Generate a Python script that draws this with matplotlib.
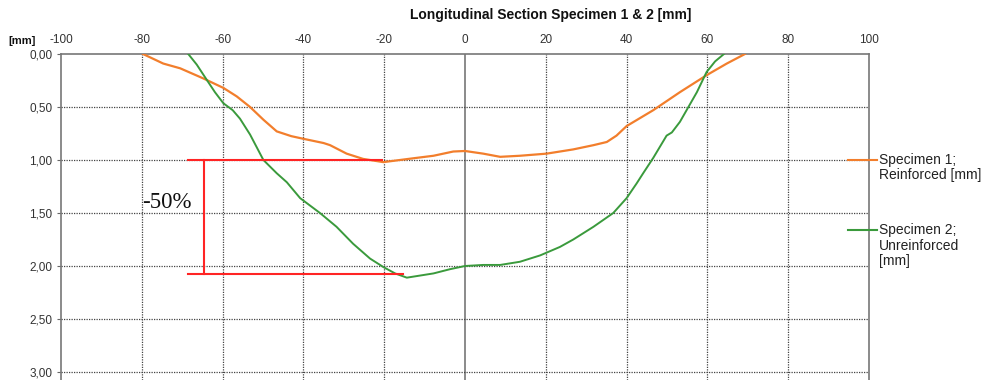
import matplotlib
matplotlib.use("Agg")
import matplotlib.pyplot as plt
from matplotlib.lines import Line2D

plt.rcParams['font.family'] = ['Liberation Sans', 'DejaVu Sans']
plt.rcParams['axes.unicode_minus'] = False

# Specimen 1 (reinforced)
x1 = [-79.7, -74.7, -70.5, -64.8, -59.8, -56.5, -53.2, -49.9, -46.6, -43.0, -40.0, -35.0,
      -33.4, -29.3, -25.2, -20.2, -16.1, -12.0, -7.8, -2.9, 0.0, 4.5, 8.7, 13.6, 20.2,
      26.8, 31.8, 35.1, 37.5, 40.0, 46.6, 53.2, 59.8, 64.8, 69.3]
y1 = [0.00, 0.09, 0.135, 0.23, 0.32, 0.40, 0.50, 0.62, 0.73, 0.775, 0.80, 0.84,
      0.86, 0.94, 0.99, 1.02, 1.00, 0.98, 0.96, 0.92, 0.915, 0.94, 0.97, 0.96, 0.94,
      0.90, 0.86, 0.83, 0.77, 0.68, 0.53, 0.36, 0.20, 0.09, 0.00]

# Specimen 2 (unreinforced)
x2 = [-68.5, -66.4, -63.9, -61.9, -59.8, -57.5, -55.7, -53.2, -49.9, -46.6, -44.1, -40.8,
      -35.9, -31.8, -27.7, -23.5, -20.2, -17.3, -14.4, -11.1, -7.8, -3.7, 0.0, 4.5, 8.7,
      13.6, 18.6, 23.5, 26.8, 31.8, 36.7, 40.0, 42.5, 44.1, 46.6, 49.9, 51.2, 53.2, 55.3,
      57.4, 59.8, 61.9, 64.1]
y2 = [0.00, 0.10, 0.245, 0.36, 0.465, 0.53, 0.61, 0.76, 1.00, 1.125, 1.21, 1.36,
      1.50, 1.63, 1.79, 1.93, 2.01, 2.07, 2.11, 2.09, 2.07, 2.03, 2.00, 1.99, 1.99,
      1.96, 1.90, 1.82, 1.75, 1.63, 1.50, 1.36, 1.22, 1.125, 0.98, 0.77, 0.74, 0.64, 0.50,
      0.36, 0.17, 0.07, 0.00]

labels = ["Specimen 1;\nReinforced [mm]", "Specimen 2;\nUnreinforced\n[mm]"]
title = "Longitudinal Section Specimen 1 & 2 [mm]"

x_ticks = [-100, -80, -60, -40, -20, 0, 20, 40, 60, 80, 100]
y_ticks = [0.0, 0.5, 1.0, 1.5, 2.0, 2.5, 3.0]
y_tick_labels = ["0,00", "0,50", "1,00", "1,50", "2,00", "2,50", "3,00"]

# annotation
ann_top = 1.00
ann_bottom = 2.08
ann_top_x = [-68.6, -20.6]
ann_bottom_x = [-68.6, -15.4]
ann_vx = -64.6
ann_text = "-50%"

c1 = '#F27E2C'
c2 = '#3A9A3C'
cred = '#FF2424'

W, H = 987, 380
fig = plt.figure(figsize=(W / 100, H / 100), dpi=100)
L, R, T, B = 61, 869, 54, 380
ax = fig.add_axes([L / W, 1 - B / H, (R - L) / W, (B - T) / H])

ax.set_xlim(-100, 100)
ax.set_ylim((B - T) / 106.0, 0)

ax.xaxis.set_ticks_position('top')
ax.set_xticks(x_ticks)
ax.set_xticklabels([str(v) for v in x_ticks])
ax.set_yticks(y_ticks)
ax.set_yticklabels(y_tick_labels)
ax.tick_params(axis='x', length=0, pad=6, labelsize=8.5, colors='#333333')
ax.tick_params(axis='y', length=3, width=0.8, color='#666666', pad=3, labelsize=8.5,
               labelcolor='#333333')

ax.spines['bottom'].set_visible(False)
for s in ['left', 'right', 'top']:
    ax.spines[s].set_color('#777777')
    ax.spines[s].set_linewidth(1.2)

for xv in x_ticks[1:-1]:
    if xv == 0:
        ax.axvline(xv, color='#777777', lw=1.2, zorder=1)
    else:
        ax.axvline(xv, color='#444444', lw=0.9, ls=(0, (1, 1)), zorder=1)
for yv in y_ticks[1:]:
    ax.axhline(yv, color='#444444', lw=0.9, ls=(0, (1, 1)), zorder=1)

ax.plot(x1, y1, color=c1, lw=1.6, zorder=3)
ax.plot(x2, y2, color=c2, lw=1.4, zorder=3)

ax.plot(ann_top_x, [ann_top, ann_top], color=cred, lw=1.5, zorder=4)
ax.plot(ann_bottom_x, [ann_bottom, ann_bottom], color=cred, lw=1.5, zorder=4)
ax.plot([ann_vx, ann_vx], [ann_top, ann_bottom], color=cred, lw=1.5, zorder=4)
ax.text(-79.9, 1.40, ann_text, fontsize=16.5, family=['Liberation Serif', 'DejaVu Serif'],
        ha='left', va='center', color='#111111', zorder=5)

fig.text(551 / W, 1 - 15 / H, title, ha='center', va='center', fontsize=10,
         fontweight='bold', color='#111111')
fig.text(8 / W, 1 - 41 / H, "[mm]", ha='left', va='center', fontsize=8,
         fontweight='bold', color='#111111')

# legend drawn manually
for yy, col, lab in [(159.5, c1, labels[0]), (230, c2, labels[1])]:
    fig.add_artist(Line2D([848 / W, 877 / W], [1 - yy / H, 1 - yy / H], color=col, lw=1.5))
    fig.text(879 / W, 1 - (yy - 7) / H, lab, ha='left', va='top', fontsize=10,
             color='#222222', linespacing=1.15)

fig.savefig('out.png', dpi=100)
